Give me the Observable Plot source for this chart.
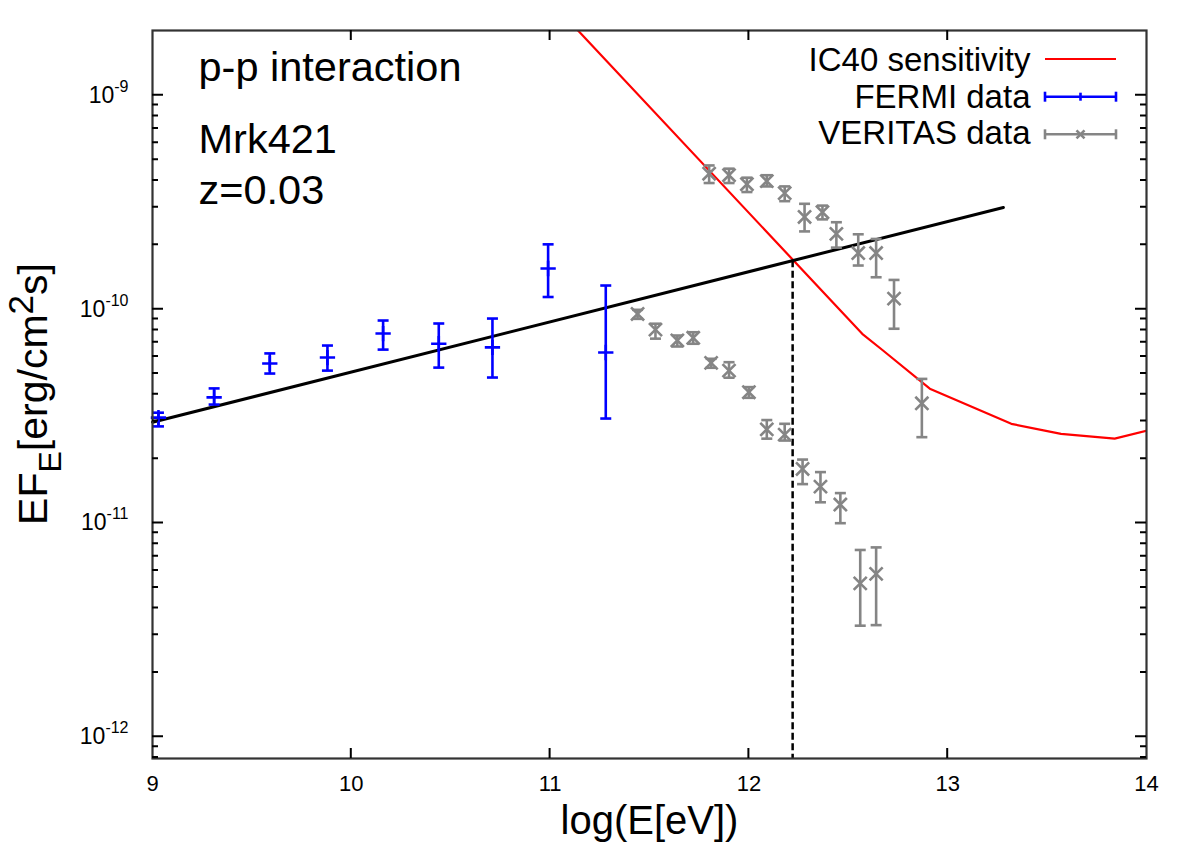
<!DOCTYPE html>
<html>
<head>
<meta charset="utf-8">
<script src="https://cdn.jsdelivr.net/npm/d3@7"></script>
<script src="https://cdn.jsdelivr.net/npm/@observablehq/plot@0.6"></script>
<style>
  html, body { margin: 0; padding: 0; background: #ffffff; }
  #chart { width: 1196px; height: 854px; }
</style>
</head>
<body>
<div id="chart"></div>
<script>
// ---------------- data ----------------
// FERMI data: log10(E/eV), E F_E [erg/cm^2 s], lower / upper error
const fermiE    = [9.03, 9.31, 9.59, 9.88, 10.16, 10.44, 10.71, 10.99, 11.28];
const fermiFlux = [3.11e-11, 3.87e-11, 5.57e-11, 5.94e-11, 7.69e-11, 6.89e-11, 6.63e-11, 1.55e-10, 6.27e-11];
const fermiLo   = [2.83e-11, 3.58e-11, 5.00e-11, 5.16e-11, 6.47e-11, 5.33e-11, 4.79e-11, 1.14e-10, 3.08e-11];
const fermiHi   = [3.28e-11, 4.26e-11, 6.21e-11, 6.76e-11, 8.85e-11, 8.57e-11, 9.04e-11, 2.01e-10, 1.29e-10];

// VERITAS data, high state
const veritasHighE    = [11.80, 11.90, 11.99, 12.09, 12.18, 12.28, 12.37, 12.44, 12.55, 12.64, 12.73, 12.87];
const veritasHighFlux = [4.30e-10, 4.23e-10, 3.84e-10, 3.97e-10, 3.49e-10, 2.70e-10, 2.84e-10, 2.25e-10, 1.83e-10, 1.83e-10, 1.12e-10, 3.63e-11];
const veritasHighLo   = [3.89e-10, 3.89e-10, 3.53e-10, 3.75e-10, 3.20e-10, 2.31e-10, 2.63e-10, 1.94e-10, 1.60e-10, 1.41e-10, 8.10e-11, 2.52e-11];
const veritasHighHi   = [4.70e-10, 4.54e-10, 4.12e-10, 4.23e-10, 3.75e-10, 3.11e-10, 3.05e-10, 2.55e-10, 2.24e-10, 2.13e-10, 1.37e-10, 4.72e-11];

// VERITAS data, low state
const veritasLowE    = [11.44, 11.53, 11.64, 11.72, 11.81, 11.90, 12.00, 12.09, 12.18, 12.27, 12.36, 12.46, 12.56, 12.64];
const veritasLowFlux = [9.50e-11, 8.02e-11, 7.14e-11, 7.35e-11, 5.61e-11, 5.16e-11, 4.09e-11, 2.74e-11, 2.59e-11, 1.79e-11, 1.48e-11, 1.22e-11, 5.22e-12, 5.78e-12];
const veritasLowLo   = [9.01e-11, 7.28e-11, 6.69e-11, 6.89e-11, 5.32e-11, 4.78e-11, 3.85e-11, 2.48e-11, 2.43e-11, 1.52e-11, 1.25e-11, 9.98e-12, 3.31e-12, 3.33e-12];
const veritasLowHi   = [9.93e-11, 8.55e-11, 7.53e-11, 7.80e-11, 5.86e-11, 5.65e-11, 4.32e-11, 3.03e-11, 2.91e-11, 1.98e-11, 1.73e-11, 1.38e-11, 7.48e-12, 7.69e-12];

// p-p interaction power law (straight line in log-log)
const powerLawE    = [9.0, 13.28];
const powerLawFlux = [2.96e-11, 2.99e-10];

// IC40 sensitivity curve
const sensE    = [11.0, 12.57, 12.67, 12.91, 13.32, 13.57, 13.84, 14.0];
const sensFlux = [2.77e-9, 7.67e-11, 6.46e-11, 4.25e-11, 2.91e-11, 2.61e-11, 2.48e-11, 2.70e-11];

// crossing of power law and sensitivity (dashed vertical line)
const cutoffE = [12.22];
const cutoffFlux = [1.686e-10];

// axes
const xTickLabels = [9, 10, 11, 12, 13, 14];
const xInnerTicks = [10, 11, 12, 13];
const yMajorTicks = [1e-12, 1e-11, 1e-10, 1e-9];
const yMinorTicks = [8e-13, 9e-13,
  2e-12, 3e-12, 4e-12, 5e-12, 6e-12, 7e-12, 8e-12, 9e-12,
  2e-11, 3e-11, 4e-11, 5e-11, 6e-11, 7e-11, 8e-11, 9e-11,
  2e-10, 3e-10, 4e-10, 5e-10, 6e-10, 7e-10, 8e-10, 9e-10];

const legendLabels = ["IC40 sensitivity", "FERMI data", "VERITAS data"];
const annotations = ["p-p interaction", "Mrk421", "z=0.03"];
const xLabel = "log(E[eV])";

// ---------------- build tables ----------------
const FONT = '"Liberation Sans", Arial, Helvetica, sans-serif';
const BLUE = "#0000ff", GRAY = "#858585", RED = "#ff0000";

const fermi = fermiE.map((e, i) => ({e, f: fermiFlux[i], lo: fermiLo[i], hi: fermiHi[i]}));
const veritas = veritasHighE.map((e, i) => ({e, f: veritasHighFlux[i], lo: veritasHighLo[i], hi: veritasHighHi[i]}))
  .concat(veritasLowE.map((e, i) => ({e, f: veritasLowFlux[i], lo: veritasLowLo[i], hi: veritasLowHi[i]})));
const powerLaw = powerLawE.map((e, i) => ({e, f: powerLawFlux[i]}));
const sens = sensE.map((e, i) => ({e, f: sensFlux[i]}));
const cutoff = cutoffE.map((e, i) => ({e, f: cutoffFlux[i]}));

const yDomain = [7.92e-13, 2.01e-9];

// horizontal cap symbol for error bars
const capSymbol = {
  draw(ctx, size) {
    const w = Math.sqrt(size / Math.PI);
    ctx.moveTo(-w, 0);
    ctx.lineTo(w, 0);
  }
};

function errorMarks(data, color, symbol, r) {
  return [
    Plot.ruleX(data, {x: "e", y1: "lo", y2: "hi", stroke: color, strokeWidth: 2.6}),
    Plot.dot(data, {x: "e", y: "lo", symbol: capSymbol, r: 5.5, stroke: color, fill: "none", strokeWidth: 2.6}),
    Plot.dot(data, {x: "e", y: "hi", symbol: capSymbol, r: 5.5, stroke: color, fill: "none", strokeWidth: 2.6}),
    Plot.dot(data, {x: "e", y: "f", symbol, r, stroke: color, fill: "none", strokeWidth: 2.6})
  ];
}

const chart = Plot.plot({
  width: 1196,
  height: 854,
  marginLeft: 152,
  marginRight: 50,
  marginTop: 30,
  marginBottom: 96,
  style: {fontFamily: FONT, background: "#ffffff", color: "#000000"},
  x: {domain: [9, 14]},
  y: {type: "log", domain: yDomain},
  marks: [
    // data
    Plot.line(sens, {x: "e", y: "f", stroke: RED, strokeWidth: 2.2, clip: true}),
    Plot.line(powerLaw, {x: "e", y: "f", stroke: "#000000", strokeWidth: 3}),
    Plot.ruleX(cutoff, {x: "e", y1: "f", y2: yDomain[0], stroke: "#000000", strokeWidth: 2.5, strokeDasharray: "7,3.5"}),
    ...errorMarks(fermi, BLUE, "plus", 5),
    ...errorMarks(veritas, GRAY, "times", 6),

    // axes: labels
    Plot.axisY({anchor: "left", ticks: yMajorTicks, tickSize: 0, tickPadding: 24, fontSize: 23,
      tickFormat: d => "10^" + Math.round(Math.log10(d)), label: null}),
    Plot.axisX({anchor: "bottom", ticks: xTickLabels, tickSize: 0, tickPadding: 17, fontSize: 22,
      tickFormat: d => String(d), label: null}),

    Plot.frame({stroke: "#333333", strokeWidth: 2.2}),

    // annotations
    Plot.text([annotations[0]], {frameAnchor: "top-left", dx: 46, dy: 50, textAnchor: "start", lineAnchor: "bottom", fontSize: 41.5, fill: "#000"}),
    Plot.text([annotations[1]], {frameAnchor: "top-left", dx: 46, dy: 122, textAnchor: "start", lineAnchor: "bottom", fontSize: 41.5, fill: "#000"}),
    Plot.text([annotations[2]], {frameAnchor: "top-left", dx: 46, dy: 173, textAnchor: "start", lineAnchor: "bottom", fontSize: 41.5, fill: "#000"}),

    // legend labels
    Plot.text([legendLabels[0]], {frameAnchor: "top-right", dx: -116, dy: 40, textAnchor: "end", lineAnchor: "bottom", fontSize: 33, fill: "#000"}),
    Plot.text([legendLabels[1]], {frameAnchor: "top-right", dx: -116, dy: 77, textAnchor: "end", lineAnchor: "bottom", fontSize: 33, fill: "#000"}),
    Plot.text([legendLabels[2]], {frameAnchor: "top-right", dx: -116, dy: 113, textAnchor: "end", lineAnchor: "bottom", fontSize: 33, fill: "#000"}),

    // x axis title
    Plot.text([xLabel], {frameAnchor: "bottom", dy: 75, lineAnchor: "bottom", fontSize: 40, fill: "#000"})
  ]
});

document.getElementById("chart").appendChild(chart);

// ---------------- post-processing ----------------
const svg = d3.select(chart);

// superscript exponents on y tick labels
svg.selectAll('g[aria-label="y-axis tick label"] text').each(function () {
  const t = d3.select(this);
  const s = t.text();
  if (!s.includes("^")) return;
  const [base, exp] = s.split("^");
  t.text(null);
  t.append("tspan").text(base);
  t.append("tspan").attr("dy", "-11").attr("font-size", 16).text(exp);
});

const xDesc = chart.scale("x"), yDesc = chart.scale("y");
const frameLeft = Math.min(...xDesc.range), frameRight = Math.max(...xDesc.range);
const frameTop = Math.min(...yDesc.range), frameBottom = Math.max(...yDesc.range);
// d3 scales rebuilt from Plot's scale descriptors
const xPos = d3.scaleLinear().domain(xDesc.domain).range(xDesc.range);
const yPos = d3.scaleLog().domain(yDesc.domain).range(yDesc.range);

// inward, mirrored ticks
const tg = svg.append("g").attr("stroke", "#000000").attr("stroke-width", 2).attr("fill", "none");
function yTick(v, len) {
  const y = yPos(v);
  tg.append("path").attr("d", `M${frameLeft},${y}h${len}M${frameRight},${y}h${-len}`);
}
yMajorTicks.forEach(v => yTick(v, 11));
yMinorTicks.forEach(v => yTick(v, 6));
xInnerTicks.forEach(v => {
  const x = xPos(v);
  tg.append("path").attr("d", `M${x},${frameBottom}v-10M${x},${frameTop}v10`);
});

// y axis title with subscript / superscript
const yl = svg.append("text")
  .attr("transform", `translate(${frameLeft - 105}, ${(frameTop + frameBottom) / 2}) rotate(-90)`)
  .attr("text-anchor", "middle")
  .attr("font-family", FONT)
  .attr("font-size", 41)
  .attr("fill", "#000");
yl.append("tspan").text("EF");
yl.append("tspan").attr("font-size", 32).attr("dy", 14).text("E");
yl.append("tspan").attr("dy", -14).text("[erg/cm");
yl.append("tspan").attr("font-size", 35).attr("dy", -14).text("2");
yl.append("tspan").attr("dy", 14).text("s]");

// legend samples
const lg = svg.append("g").attr("fill", "none").attr("stroke-width", 2.6);
const sx0 = frameRight - 101, sx1 = frameRight - 30, sxm = (sx0 + sx1) / 2;
const rowY = [frameTop + 29, frameTop + 66.7, frameTop + 104.3];
// IC40
lg.append("line").attr("x1", sx0).attr("x2", sx1).attr("y1", rowY[0]).attr("y2", rowY[0]).attr("stroke", RED).attr("stroke-width", 2.2);
// FERMI / VERITAS
function errSample(y, color, marker) {
  const g = lg.append("g").attr("stroke", color);
  g.append("line").attr("x1", sx0).attr("x2", sx1).attr("y1", y).attr("y2", y);
  g.append("line").attr("x1", sx0).attr("x2", sx0).attr("y1", y - 5).attr("y2", y + 5);
  g.append("line").attr("x1", sx1).attr("x2", sx1).attr("y1", y - 5).attr("y2", y + 5);
  if (marker === "plus") {
    g.append("line").attr("x1", sxm).attr("x2", sxm).attr("y1", y - 4).attr("y2", y + 4);
  } else {
    g.append("path").attr("d", `M${sxm - 4},${y - 4}L${sxm + 4},${y + 4}M${sxm - 4},${y + 4}L${sxm + 4},${y - 4}`);
  }
}
errSample(rowY[1], BLUE, "plus");
errSample(rowY[2], GRAY, "times");
</script>
</body>
</html>
